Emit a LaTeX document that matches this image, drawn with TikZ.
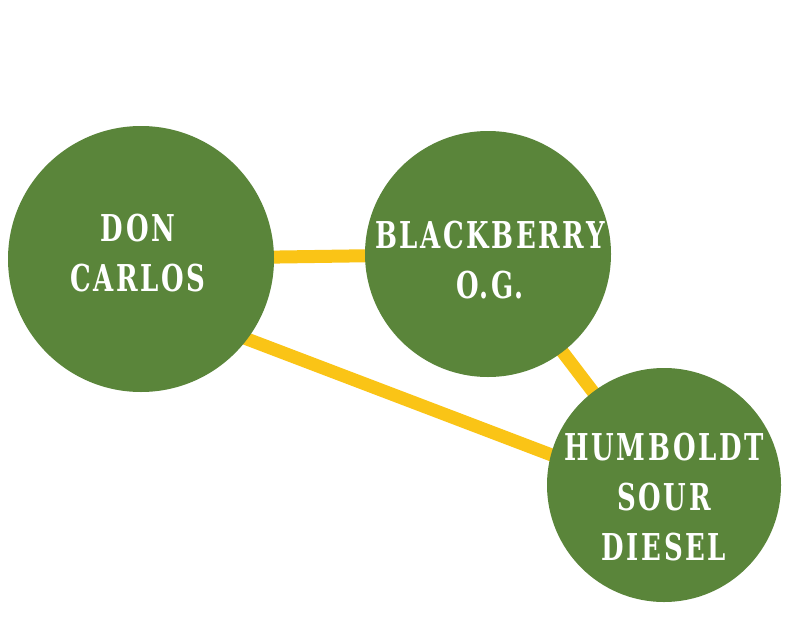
\documentclass[tikz,border=0pt]{standalone}
\usepackage{fontspec}
\usetikzlibrary{backgrounds}
\newfontfamily\strainfont[LetterSpace=7,FakeStretch=0.78]{DejaVu Serif Condensed Bold}
\definecolor{leaf}{RGB}{90,133,58}
\definecolor{gold}{RGB}{250,196,22}
\tikzset{
  strain/.style={circle,fill=leaf,inner sep=0pt},
  strainname/.style={text=white,align=center,inner sep=0pt,
    font=\strainfont\fontsize{37}{50}\selectfont},
  link/.style={draw=gold,line width=13pt,shorten <=-8pt,shorten >=-8pt}
}
\begin{document}
\begin{tikzpicture}[x=1pt,y=-1pt]
\useasboundingbox (0,0) rectangle (800,626);
\node[strain,minimum size=266pt,
  label={[strainname,yshift=6pt,xshift=-3pt]center:DON\\CARLOS}] (dc) at (141,259) {};
\node[strain,minimum size=246pt,
  label={[strainname,yshift=-6pt,xshift=2pt]center:BLACKBERRY\\O.G.}] (bb) at (488,254) {};
\node[strain,minimum size=234pt,
  label={[strainname,yshift=-12pt]center:HUMBOLDT\\SOUR\\DIESEL}] (hsd) at (664,485) {};
\begin{scope}[on background layer]
\fill[white] (0,0) rectangle (800,626);
\draw[link] (dc) -- (bb);
\draw[link] (dc.-37) -- (hsd.165);
\draw[link] (bb) -- (hsd);
\end{scope}
\end{tikzpicture}
\end{document}
